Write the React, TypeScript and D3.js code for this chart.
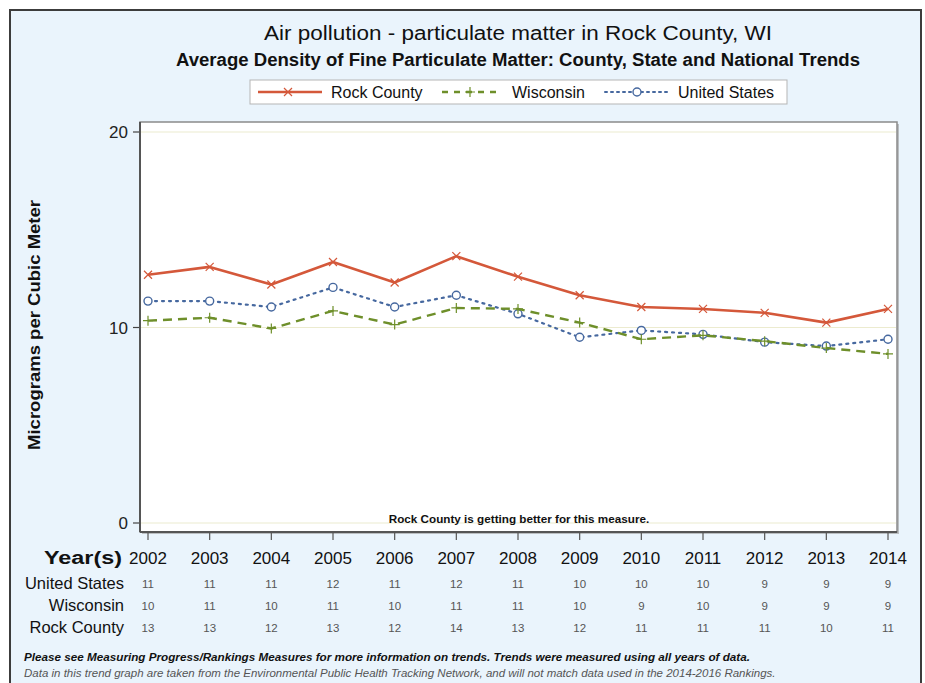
import React from "react";
import * as d3 from "d3";

const years = [2002, 2003, 2004, 2005, 2006, 2007, 2008, 2009, 2010, 2011, 2012, 2013, 2014];
const rockCounty = [12.7, 13.1, 12.2, 13.35, 12.3, 13.65, 12.6, 11.65, 11.05, 10.95, 10.75, 10.25, 10.95];
const wisconsin = [10.35, 10.5, 9.95, 10.85, 10.15, 11.0, 10.95, 10.25, 9.4, 9.6, 9.3, 8.95, 8.65];
const unitedStates = [11.35, 11.35, 11.05, 12.05, 11.05, 11.65, 10.7, 9.5, 9.85, 9.65, 9.25, 9.05, 9.4];
const yTicks = [0, 10, 20];
const tableUS = ["11", "11", "11", "12", "11", "12", "11", "10", "10", "10", "9", "9", "9"];
const tableWI = ["10", "11", "10", "11", "10", "11", "11", "10", "9", "10", "9", "9", "9"];
const tableRock = ["13", "13", "12", "13", "12", "14", "13", "12", "11", "11", "11", "10", "11"];

const W = 925;
const H = 683;
const FONT = "'Liberation Sans', Arial, sans-serif";
const RED = "#d4583a";
const GREEN = "#6e8f2a";
const BLUE = "#46689f";

const plot = { left: 140, right: 897, top: 122, bottom: 532 };

export default function App() {
  const x = d3.scaleLinear().domain([2002, 2014]).range([148, 888]);
  const y = d3.scaleLinear().domain([0, 20]).range([523, 132]);
  const line = d3
    .line<number>()
    .x((_, i) => x(years[i]))
    .y((d) => y(d));

  const xMark = (cx: number, cy: number, color: string, key: string) => (
    <path key={key} d={`M${cx - 4},${cy - 4}L${cx + 4},${cy + 4}M${cx - 4},${cy + 4}L${cx + 4},${cy - 4}`} stroke={color} strokeWidth={1.2} fill="none" />
  );
  const plusMark = (cx: number, cy: number, color: string, key: string) => (
    <path key={key} d={`M${cx - 5},${cy}L${cx + 5},${cy}M${cx},${cy - 5}L${cx},${cy + 5}`} stroke={color} strokeWidth={1.2} fill="none" />
  );
  const circleMark = (cx: number, cy: number, color: string, key: string) => (
    <circle key={key} cx={cx} cy={cy} r={4} stroke={color} strokeWidth={1.4} fill="white" />
  );

  const series = [
    { values: unitedStates, color: BLUE, dash: "2,5", width: 2.2, mark: circleMark, cap: "round" },
    { values: wisconsin, color: GREEN, dash: "9,6", width: 2.4, mark: plusMark, cap: "butt" },
    { values: rockCounty, color: RED, dash: "", width: 2.6, mark: xMark, cap: "butt" },
  ];

  const tableRows = [
    { label: "United States", vals: tableUS, y: 589 },
    { label: "Wisconsin", vals: tableWI, y: 611 },
    { label: "Rock County", vals: tableRock, y: 633 },
  ];

  return (
    <svg width={W} height={H} style={{ position: "absolute", left: 0, top: 0, fontFamily: FONT }}>
      <rect x={0} y={0} width={W} height={H} fill="#ffffff" />
      <rect x={10} y={10} width={911} height={H} fill="#eaf4fc" stroke="#3c3c3c" strokeWidth={2} />

      {/* titles */}
      <text x={264} y={40} fontSize={20} fill="#111" textLength={508} lengthAdjust="spacingAndGlyphs">
        Air pollution - particulate matter in Rock County, WI
      </text>
      <text x={176} y={66} fontSize={17.5} fontWeight="bold" fill="#111" textLength={684} lengthAdjust="spacingAndGlyphs">
        Average Density of Fine Particulate Matter: County, State and National Trends
      </text>

      {/* legend */}
      <rect x={250} y={80} width={537} height={24} fill="white" stroke="#b5b5b5" strokeWidth={1} />
      <line x1={258} x2={322} y1={92} y2={92} stroke={RED} strokeWidth={2.6} />
      {xMark(288, 92, RED, "lr")}
      <text x={331} y={98} fontSize={16} fill="#111">Rock County</text>
      <line x1={442} x2={498} y1={92} y2={92} stroke={GREEN} strokeWidth={2.4} strokeDasharray="6,6" />
      {plusMark(470, 92, GREEN, "lw")}
      <text x={512} y={98} fontSize={16} fill="#111">Wisconsin</text>
      <line x1={605} x2={667} y1={92} y2={92} stroke={BLUE} strokeWidth={2} strokeDasharray="2,4" strokeLinecap="round" />
      {circleMark(637, 92, BLUE, "lu")}
      <text x={678} y={98} fontSize={16} fill="#111">United States</text>

      {/* plot area */}
      <rect x={plot.left + 2} y={plot.top + 2} width={plot.right - plot.left} height={plot.bottom - plot.top} fill="#9a9a9a" opacity={0.6} />
      <rect x={plot.left} y={plot.top} width={plot.right - plot.left} height={plot.bottom - plot.top} fill="white" stroke="#8a8a8a" strokeWidth={1.5} />
      {yTicks.map((t) => (
        <g key={`yt${t}`}>
          <line x1={plot.left + 1} x2={plot.right - 1} y1={y(t)} y2={y(t)} stroke="#ecebcf" strokeWidth={1.2} />
          <line x1={plot.left - 7} x2={plot.left} y1={y(t)} y2={y(t)} stroke="#444" strokeWidth={1.2} />
          <text x={plot.left - 12} y={y(t) + 6} textAnchor="end" fontSize={17} fill="#222">
            {t}
          </text>
        </g>
      ))}
      <line x1={plot.left} x2={plot.left} y1={plot.top} y2={plot.bottom} stroke="#555" strokeWidth={2} />
      <line x1={plot.left} x2={plot.right} y1={plot.bottom} y2={plot.bottom} stroke="#555" strokeWidth={2} />
      {years.map((yr) => (
        <line key={`xt${yr}`} x1={x(yr)} x2={x(yr)} y1={plot.bottom} y2={plot.bottom + 8} stroke="#555" strokeWidth={1.2} />
      ))}

      {series.map((s, si) => (
        <g key={`s${si}`}>
          <path
            d={line(s.values) || ""}
            fill="none"
            stroke={s.color}
            strokeWidth={s.width}
            strokeDasharray={s.dash || undefined}
            strokeLinecap={s.cap as any}
            strokeLinejoin="round"
          />
          {s.values.map((v, i) => s.mark(x(years[i]), y(v), s.color, `m${si}-${i}`))}
        </g>
      ))}

      <text x={519} y={523} textAnchor="middle" fontSize={11.7} fontWeight="bold" fill="#111">
        Rock County is getting better for this measure.
      </text>

      {/* y axis label */}
      <text transform="translate(40,325) rotate(-90)" textAnchor="middle" fontSize={17} fontWeight="bold" fill="#111" textLength={250} lengthAdjust="spacingAndGlyphs">
        Micrograms per Cubic Meter
      </text>

      {/* table */}
      <text x={122} y={564} textAnchor="end" fontSize={18} fontWeight="bold" fill="#111" textLength={78} lengthAdjust="spacingAndGlyphs">
        Year(s)
      </text>
      {years.map((yr) => (
        <text key={`yl${yr}`} x={x(yr)} y={564} textAnchor="middle" fontSize={17} fill="#111">
          {yr}
        </text>
      ))}
      {tableRows.map((r) => (
        <g key={r.label}>
          <text x={124} y={r.y} textAnchor="end" fontSize={16.5} fill="#111">
            {r.label}
          </text>
          {r.vals.map((v, i) => (
            <text key={`${r.label}${i}`} x={x(years[i])} y={r.y - 1} textAnchor="middle" fontSize={11.5} fill="#555">
              {v}
            </text>
          ))}
        </g>
      ))}

      {/* footnotes */}
      <text x={24} y={661} fontSize={11.7} fontWeight="bold" fontStyle="italic" fill="#111">
        Please see Measuring Progress/Rankings Measures for more information on trends. Trends were measured using all years of data.
      </text>
      <text x={24} y={677} fontSize={11.5} fontStyle="italic" fill="#555">
        Data in this trend graph are taken from the Environmental Public Health Tracking Network, and will not match data used in the 2014-2016 Rankings.
      </text>
    </svg>
  );
}
